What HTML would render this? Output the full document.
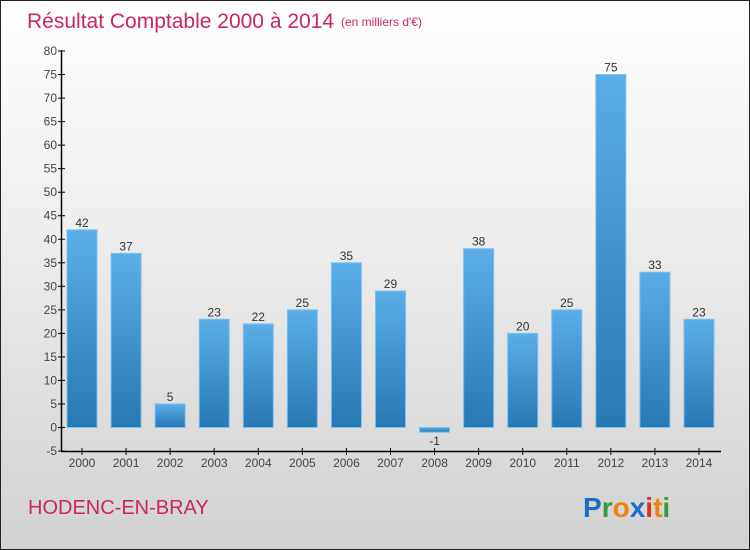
<!DOCTYPE html>
<html><head><meta charset="utf-8"><style>
body{margin:0}
#c{width:748px;height:548px;border:1px solid #222;background:linear-gradient(#fff 0%,#f3f3f3 30%,#d2d2d2 100%);position:relative;font-family:"Liberation Sans",sans-serif;overflow:hidden}
</style></head><body>
<div id="c">
<svg id="s" width="748" height="548">
<defs><linearGradient id="g" x1="0" y1="0" x2="0" y2="1"><stop offset="0" stop-color="#5aaee8"/><stop offset="1" stop-color="#2878b4"/></linearGradient></defs>
<text x="26" y="27" font-size="21" fill="#c8285a">Résultat Comptable 2000 à 2014</text>
<text x="340" y="25" font-size="12" fill="#c8285a">(en milliers d'€)</text>
<text x="27" y="513" font-size="20" fill="#c8285a">HODENC-EN-BRAY</text>
<text x="582" y="516" font-size="28" font-weight="bold"><tspan fill="#1a6fc8">P</tspan><tspan fill="#3a9a3a">r</tspan><tspan fill="#f08010">o</tspan><tspan fill="#1a6fc8">x</tspan><tspan fill="#e03020">i</tspan><tspan fill="#f08010">t</tspan><tspan fill="#3a9a3a">i</tspan></text>
<g id="plot"></g>
</svg></div>
<script>
const categories=["2000","2001","2002","2003","2004","2005","2006","2007","2008","2009","2010","2011","2012","2013","2014"];
const values=[42,37,5,23,22,25,35,29,-1,38,20,25,75,33,23];
const yTicks=[-5,0,5,10,15,20,25,30,35,40,45,50,55,60,65,70,75,80];
const NS="http://www.w3.org/2000/svg";
const p=document.getElementById('plot');
const y=v=>426.5-(v)*(400/85);
const x=i=>81+i*44.07;
function mk(t,a){const e=document.createElementNS(NS,t);for(const k in a)e.setAttribute(k,a[k]);p.appendChild(e);return e;}
let ax=mk('line',{x1:60.5,y1:49,x2:60.5,y2:450.5,stroke:'#000','stroke-width':1.5});


let bx=mk('line',{x1:60,y1:450.5,x2:720,y2:450.5,stroke:'#000','stroke-width':1.5});


yTicks.forEach(t=>{
 let l=mk('line',{x1:57,x2:64,y1:y(t),y2:y(t),stroke:'#000'});
 
 
 let tx=mk('text',{x:56,y:y(t)+4,'font-size':12,fill:'#444','text-anchor':'end'});
 tx.textContent=t;
 
 
});
categories.forEach((c,i)=>{
 const v=values[i],cx=x(i);
 let tk=mk('line',{x1:cx,x2:cx,y1:447,y2:454,stroke:'#000'});
 
 
 let tl=mk('text',{x:cx,y:466,'font-size':12,fill:'#444','text-anchor':'middle'});
 tl.textContent=c;
 
 
 const top=Math.min(y(v),y(0)),h=Math.abs(y(v)-y(0));
 let b=mk('rect',{x:cx-15,y:top,width:30,height:Math.max(h,1),fill:'url(#g)',stroke:'#7cc0ee','stroke-width':1});
 
 
 let vl=mk('text',{x:cx,y:v>=0?y(v)-3:y(v)+13,'font-size':12,fill:'#333','text-anchor':'middle'});
 vl.textContent=v;
 
 
});
</script>
</body></html>
